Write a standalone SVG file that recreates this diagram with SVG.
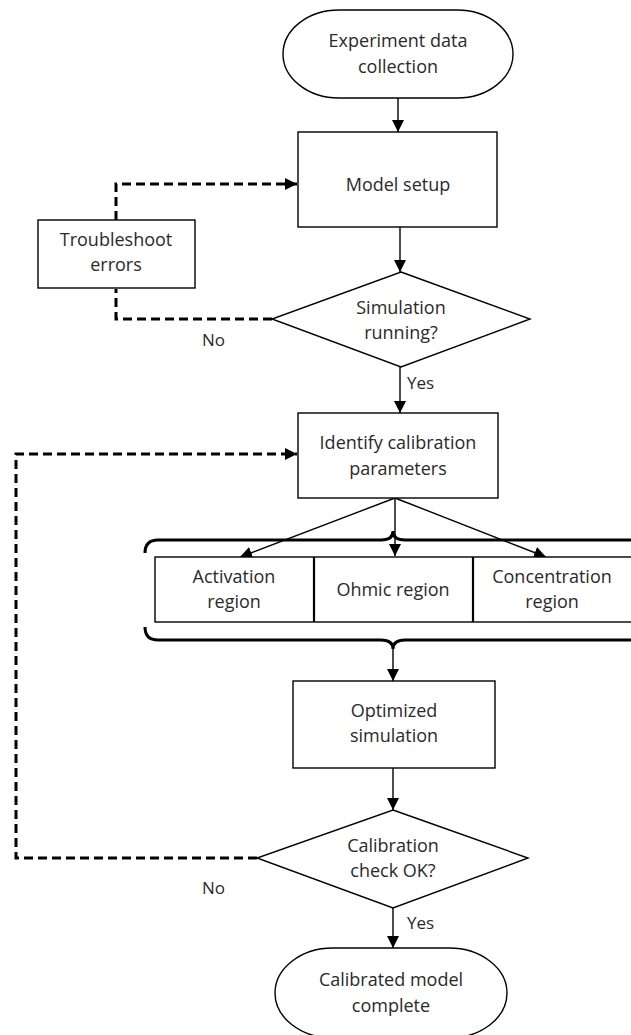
<svg xmlns="http://www.w3.org/2000/svg" width="631" height="1035" viewBox="0 0 631 1035">
  <defs>
    <marker id="arrow" viewBox="0 0 10 10" refX="10" refY="5" markerWidth="12" markerHeight="12" markerUnits="userSpaceOnUse" orient="auto">
      <path d="M0,0 L10,5 L0,10 Z" fill="#000"/>
    </marker>
    <style>
      .shape { fill: #fff; stroke: #000; stroke-width: 1.4; }
      .label { font-family: "Open Sans", "Noto Sans", sans-serif; font-size: 18px; fill: #2a2a2a; text-anchor: middle; }
      .edge-label { font-family: "Open Sans", "Noto Sans", sans-serif; font-size: 17px; fill: #2a2a2a; text-anchor: start; }
      .flow { fill: none; stroke: #000; stroke-width: 1.4; }
      .loop { fill: none; stroke: #000; stroke-width: 3; stroke-dasharray: 9 5; }
      .brace { fill: none; stroke: #000; stroke-width: 3; }
      .divider { stroke: #000; stroke-width: 2.2; }
    </style>
  </defs>
  <rect width="631" height="1035" fill="#fff"/>

  <!-- connectors -->
  <g id="connectors">
    <line class="flow" x1="398" y1="98" x2="398" y2="132" marker-end="url(#arrow)"/>
    <line class="flow" x1="400" y1="227" x2="400" y2="272" marker-end="url(#arrow)"/>
    <line class="flow" x1="400" y1="367" x2="400" y2="413" marker-end="url(#arrow)"/>
    <polyline class="loop" points="116,220 116,184 297,184" marker-end="url(#arrow)"/>
    <polyline class="loop" points="272,319 116,319 116,289"/>
    <line class="flow" x1="395" y1="498" x2="240" y2="557" marker-end="url(#arrow)"/>
    <line class="flow" x1="395" y1="498" x2="395" y2="556" marker-end="url(#arrow)"/>
    <line class="flow" x1="395" y1="498" x2="546" y2="557" marker-end="url(#arrow)"/>
    <line class="flow" x1="393" y1="648" x2="393" y2="681" marker-end="url(#arrow)"/>
    <line class="flow" x1="393" y1="768" x2="393" y2="810" marker-end="url(#arrow)"/>
    <polyline class="loop" points="257,858 16,858 16,454 297,454" marker-end="url(#arrow)"/>
    <line class="flow" x1="393" y1="908" x2="393" y2="948" marker-end="url(#arrow)"/>
    <text class="edge-label" x="407" y="389">Yes</text>
    <text class="edge-label" x="202" y="346">No</text>
    <text class="edge-label" x="202" y="894">No</text>
    <text class="edge-label" x="407" y="929">Yes</text>
  </g>

  <g id="start">
    <rect class="shape" x="283" y="10" width="230" height="88" rx="56" ry="44"/>
    <text class="label" x="398" y="47">Experiment data</text>
    <text class="label" x="398" y="73">collection</text>
  </g>

  <g id="model-setup">
    <rect class="shape" x="298" y="132" width="199" height="95"/>
    <text class="label" x="398" y="191">Model setup</text>
  </g>

  <g id="troubleshoot">
    <rect class="shape" x="38" y="220" width="157" height="68"/>
    <text class="label" x="116" y="246">Troubleshoot</text>
    <text class="label" x="116" y="271">errors</text>
  </g>

  <g id="simulation-running">
    <polygon class="shape" points="401,272 530,319 401,367 272,319"/>
    <text class="label" x="401" y="314">Simulation</text>
    <text class="label" x="401" y="339">running?</text>
  </g>

  <g id="identify">
    <rect class="shape" x="298" y="413" width="200" height="85"/>
    <text class="label" x="398" y="449">Identify calibration</text>
    <text class="label" x="398" y="475">parameters</text>
  </g>

  <g id="regions">
    <path class="brace" d="M145,553 Q145,540 158,540 L381,540 Q393,540 393,531 Q393,540 405,540 L640,540"/>
    <path class="brace" d="M145,627 Q145,640 158,640 L381,640 Q393,640 393,649 Q393,640 405,640 L640,640"/>
    <rect class="shape" x="155" y="557" width="490" height="65"/>
    <line class="divider" x1="314" y1="557" x2="314" y2="622"/>
    <line class="divider" x1="473" y1="557" x2="473" y2="622"/>
    <g id="activation">
      <text class="label" x="234" y="583">Activation</text>
      <text class="label" x="234" y="608">region</text>
    </g>
    <g id="ohmic">
      <text class="label" x="393" y="596">Ohmic region</text>
    </g>
    <g id="concentration">
      <text class="label" x="552" y="583">Concentration</text>
      <text class="label" x="552" y="608">region</text>
    </g>
  </g>

  <g id="optimized">
    <rect class="shape" x="293" y="681" width="202" height="87"/>
    <text class="label" x="394" y="717">Optimized</text>
    <text class="label" x="394" y="742">simulation</text>
  </g>

  <g id="calibration-check">
    <polygon class="shape" points="393,810 528,858 393,908 257,858"/>
    <text class="label" x="393" y="852">Calibration</text>
    <text class="label" x="393" y="877">check OK?</text>
  </g>

  <g id="end">
    <rect class="shape" x="275" y="948" width="232" height="90" rx="58" ry="45"/>
    <text class="label" x="391" y="986">Calibrated model</text>
    <text class="label" x="391" y="1012">complete</text>
  </g>
</svg>
